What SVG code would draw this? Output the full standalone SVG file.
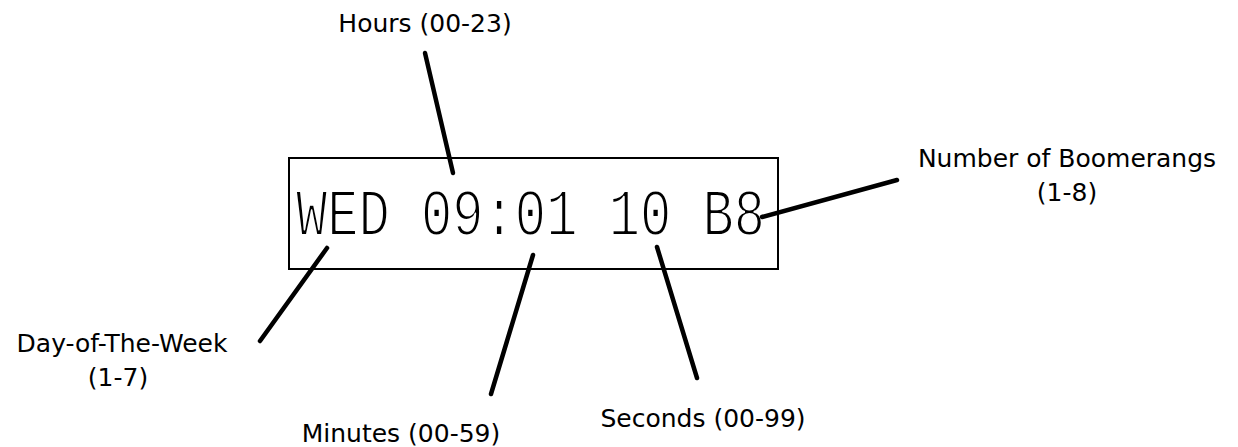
<svg xmlns="http://www.w3.org/2000/svg" width="1238" height="447" viewBox="0 0 1238 447">
<style>
.lbl{font-family:"DejaVu Sans","Noto Sans",sans-serif;font-size:25px;fill:#000;text-anchor:middle}
.disp{font-family:"Liberation Mono","Courier New",monospace;font-size:66px;fill:#000;stroke:#fff;stroke-width:2;stroke-linejoin:round}
.conn line{stroke:#000;stroke-width:4.5;stroke-linecap:round}
</style>
<rect width="1238" height="447" fill="#fff"/>
<g id="display">
<rect x="289" y="158" width="489" height="111" fill="none" stroke="#000" stroke-width="2"/>
<text class="disp" x="296" y="235" textLength="469" lengthAdjust="spacingAndGlyphs">WED 09:01 10 B8</text>
</g>
<g id="hours"><text class="lbl" x="425" y="32">Hours (00-23)</text></g>
<g id="dow"><text class="lbl" x="122" y="352">Day-of-The-Week</text><text class="lbl" x="118" y="386">(1-7)</text></g>
<g id="minutes"><text class="lbl" x="401" y="442">Minutes (00-59)</text></g>
<g id="seconds"><text class="lbl" x="703" y="427">Seconds (00-99)</text></g>
<g id="boomerangs"><text class="lbl" x="1067" y="167">Number of Boomerangs</text><text class="lbl" x="1067" y="201">(1-8)</text></g>
<g class="conn" id="connectors">
<line x1="425" y1="53" x2="453" y2="173"/>
<line x1="327" y1="248" x2="260" y2="341"/>
<line x1="533" y1="255" x2="491" y2="394"/>
<line x1="657" y1="247" x2="697" y2="378"/>
<line x1="762" y1="217" x2="897" y2="180"/>
</g>
</svg>
